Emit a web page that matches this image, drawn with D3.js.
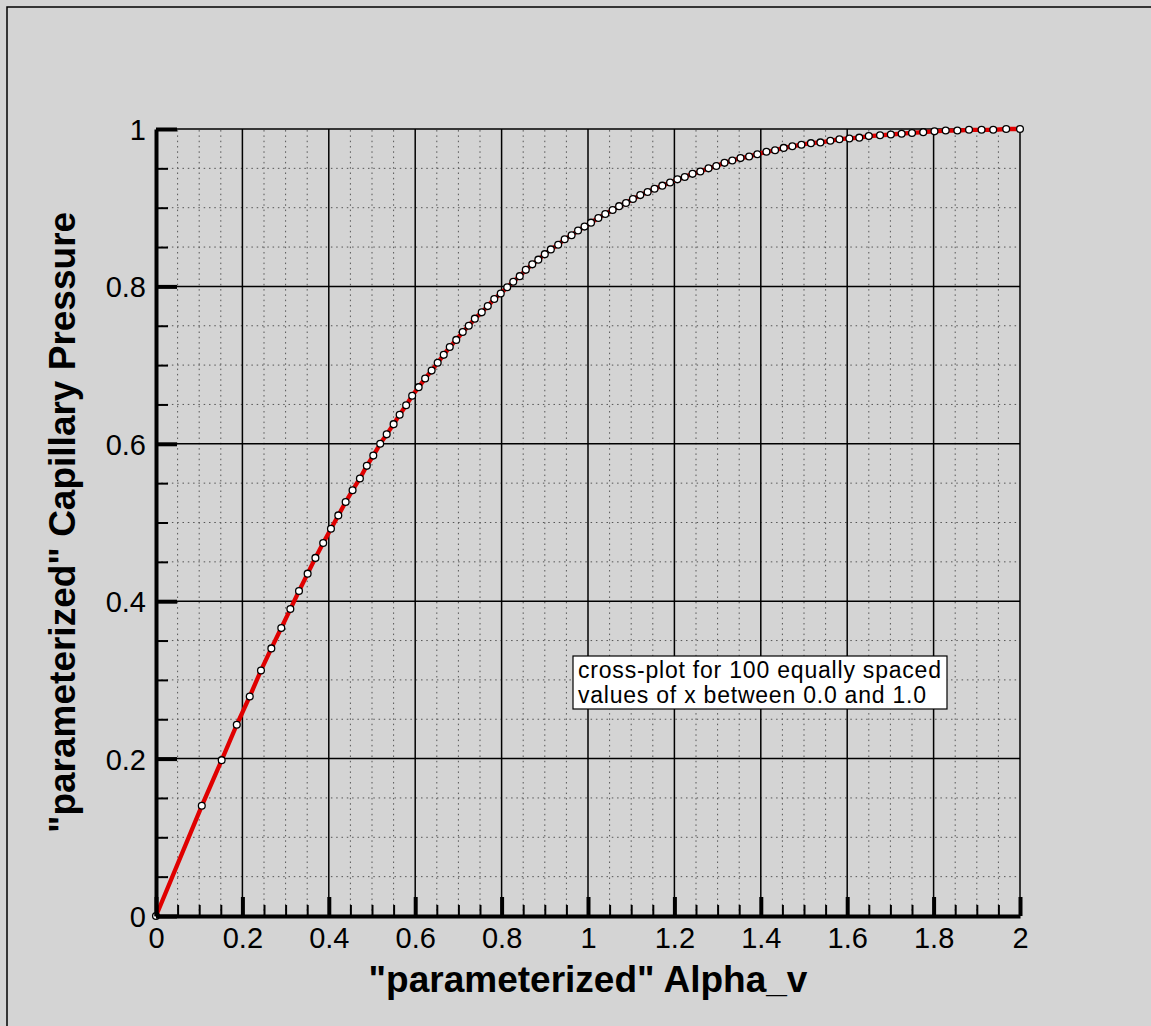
<!DOCTYPE html>
<meta charset="utf-8">
<head>
    <title>Capillary pressure cross-plot</title>
    <script type="text/javascript" src="https://cdn.jsdelivr.net/npm/d3@7"></script>
    <style>
        body { margin: 0; background: #d4d4d4; }
        svg { display: block; font-family: "Liberation Sans", Arial, sans-serif; }
        .tick text { font-size: 29px; fill: #000; }
        .minorgrid { stroke: #555; stroke-width: 1; stroke-dasharray: 1.5 3.8; }
        .majorgrid { stroke: #000; stroke-width: 1.5; }
        .title { font-size: 37px; font-weight: bold; }
        .note { font-size: 23px; }
    </style>
</head>
<body>
    <div id="chart"></div>
    <script>
        // cross-plot points
        var alphaV = [0, 0.106, 0.152, 0.187, 0.217, 0.243, 0.267, 0.290, 0.311, 0.331,
            0.351, 0.369, 0.387, 0.405, 0.422, 0.439, 0.455, 0.472, 0.488, 0.503,
            0.519, 0.534, 0.550, 0.564, 0.579, 0.593, 0.608, 0.623, 0.638, 0.652,
            0.666, 0.680, 0.695, 0.710, 0.724, 0.738, 0.754, 0.768, 0.783, 0.798,
            0.813, 0.827, 0.842, 0.856, 0.871, 0.885, 0.900, 0.914, 0.931, 0.946,
            0.962, 0.977, 0.992, 1.007, 1.024, 1.040, 1.057, 1.072, 1.088, 1.104,
            1.121, 1.138, 1.154, 1.172, 1.190, 1.207, 1.224, 1.242, 1.260, 1.279,
            1.297, 1.316, 1.334, 1.353, 1.373, 1.392, 1.413, 1.433, 1.453, 1.473,
            1.494, 1.516, 1.538, 1.561, 1.582, 1.605, 1.628, 1.650, 1.676, 1.701,
            1.726, 1.750, 1.776, 1.802, 1.828, 1.855, 1.882, 1.911, 1.938, 1.968, 2.000];
        var capPressure = [0, 0.140, 0.198, 0.243, 0.279, 0.312, 0.340, 0.366, 0.390, 0.413,
            0.435, 0.455, 0.474, 0.492, 0.509, 0.526, 0.541, 0.556, 0.572, 0.585,
            0.600, 0.612, 0.625, 0.637, 0.649, 0.661, 0.672, 0.683, 0.693, 0.703,
            0.713, 0.723, 0.732, 0.742, 0.750, 0.759, 0.767, 0.775, 0.784, 0.791,
            0.799, 0.806, 0.813, 0.821, 0.828, 0.834, 0.841, 0.847, 0.853, 0.860,
            0.865, 0.871, 0.876, 0.881, 0.887, 0.892, 0.897, 0.902, 0.906, 0.911,
            0.916, 0.920, 0.924, 0.928, 0.932, 0.936, 0.939, 0.943, 0.946, 0.950,
            0.953, 0.957, 0.960, 0.963, 0.965, 0.968, 0.971, 0.973, 0.976, 0.978,
            0.980, 0.982, 0.983, 0.985, 0.987, 0.988, 0.989, 0.991, 0.992, 0.993,
            0.994, 0.995, 0.996, 0.997, 0.998, 0.998, 0.999, 0.999, 0.999, 1.000, 1.000];

        var xMajor = [0, 0.2, 0.4, 0.6, 0.8, 1, 1.2, 1.4, 1.6, 1.8, 2];
        var yMajor = [0, 0.2, 0.4, 0.6, 0.8, 1];
        var xMinor = d3.range(0, 2.0001, 0.05).filter(v => Math.abs(v * 5 - Math.round(v * 5)) > 1e-6);
        var yMinor = d3.range(0, 1.0001, 0.05).filter(v => Math.abs(v * 5 - Math.round(v * 5)) > 1e-6);

        var noteLines = ["cross-plot for 100 equally spaced", "values of x between 0.0 and 1.0"];
        var noteWidths = [363, 348];

        var width = 1151, height = 1026;
        var plot = { left: 156, right: 1020, top: 129, bottom: 916 };

        var svg = d3.select("#chart").append("svg")
            .attr("width", width)
            .attr("height", height);

        // outer frame (left and top edges show in the picture)
        svg.append("path")
            .attr("d", "M7,1026V7H1151")
            .attr("fill", "none")
            .attr("stroke", "#000")
            .attr("stroke-width", 1.5);

        var x = d3.scaleLinear().domain([0, 2]).range([plot.left, plot.right]);
        var y = d3.scaleLinear().domain([0, 1]).range([plot.bottom, plot.top]);

        // grid
        var grid = svg.append("g");
        grid.selectAll(".mx").data(xMinor).enter().append("line")
            .attr("class", "minorgrid")
            .attr("x1", d => x(d)).attr("x2", d => x(d))
            .attr("y1", plot.bottom).attr("y2", plot.top);
        grid.selectAll(".my").data(yMinor).enter().append("line")
            .attr("class", "minorgrid")
            .attr("y1", d => y(d)).attr("y2", d => y(d))
            .attr("x1", plot.left).attr("x2", plot.right);
        grid.selectAll(".Mx").data(xMajor.slice(1)).enter().append("line")
            .attr("class", "majorgrid")
            .attr("x1", d => x(d)).attr("x2", d => x(d))
            .attr("y1", plot.bottom).attr("y2", plot.top);
        grid.selectAll(".My").data(yMajor.slice(1)).enter().append("line")
            .attr("class", "majorgrid")
            .attr("y1", d => y(d)).attr("y2", d => y(d))
            .attr("x1", plot.left).attr("x2", plot.right);

        // curve and markers
        var line = d3.line()
            .x((d, i) => x(alphaV[i]))
            .y((d, i) => y(capPressure[i]));

        svg.append("path")
            .datum(alphaV)
            .attr("d", line)
            .attr("fill", "none")
            .attr("stroke", "#e00000")
            .attr("stroke-width", 4.3)
            .attr("stroke-linejoin", "round");

        svg.append("g").selectAll("circle")
            .data(alphaV)
            .enter().append("circle")
            .attr("cx", d => x(d))
            .attr("cy", (d, i) => y(capPressure[i]))
            .attr("r", 3.4)
            .attr("fill", "#fff")
            .attr("stroke", "#000")
            .attr("stroke-width", 1.3);

        // annotation box
        var note = svg.append("g").attr("transform", "translate(573,656)");
        note.append("rect")
            .attr("width", 374).attr("height", 53)
            .attr("fill", "#fff").attr("stroke", "#000").attr("stroke-width", 1.2);
        note.selectAll("text").data(noteLines).enter().append("text")
            .attr("class", "note")
            .attr("x", 5)
            .attr("y", (d, i) => 21.5 + i * 25)
            .attr("textLength", (d, i) => noteWidths[i])
            .attr("lengthAdjust", "spacing")
            .text(d => d);

        // minor ticks
        svg.append("g")
            .attr("transform", "translate(0," + plot.bottom + ")")
            .call(d3.axisBottom(x).tickValues(xMinor).tickSize(-11).tickFormat(""))
            .call(g => g.select(".domain").remove())
            .call(g => g.selectAll("line").attr("stroke-width", 2));
        svg.append("g")
            .attr("transform", "translate(" + plot.left + ",0)")
            .call(d3.axisLeft(y).tickValues(yMinor).tickSize(-12).tickFormat(""))
            .call(g => g.select(".domain").remove())
            .call(g => g.selectAll("line").attr("stroke-width", 2));

        // major ticks and labels
        svg.append("g")
            .attr("transform", "translate(0," + plot.bottom + ")")
            .call(d3.axisBottom(x).tickValues(xMajor).tickSizeInner(-19).tickSizeOuter(0)
                .tickPadding(11).tickFormat(d3.format("~g")))
            .call(g => g.select(".domain").attr("stroke-width", 4))
            .call(g => g.selectAll(".tick line").attr("stroke-width", 4));
        svg.append("g")
            .attr("transform", "translate(" + plot.left + ",0)")
            .call(d3.axisLeft(y).tickValues(yMajor).tickSizeInner(-21).tickSizeOuter(0)
                .tickPadding(10).tickFormat(d3.format("~g")))
            .call(g => g.select(".domain").attr("stroke-width", 4))
            .call(g => g.selectAll(".tick line").attr("stroke-width", 4))
            .call(g => g.selectAll(".tick text").attr("dy", "0.36em"));

        svg.selectAll(".tick text").attr("font-family", null).attr("font-size", null);

        // axis titles
        svg.append("text")
            .attr("class", "title")
            .attr("x", (plot.left + plot.right) / 2)
            .attr("y", 992)
            .attr("text-anchor", "middle")
            .text("\"parameterized\" Alpha_v");

        svg.append("text")
            .attr("class", "title")
            .attr("transform", "translate(75," + (plot.top + plot.bottom) / 2 + ") rotate(-90)")
            .attr("text-anchor", "middle")
            .text("\"parameterized\" Capillary Pressure");
    </script>
</body>
</html>
